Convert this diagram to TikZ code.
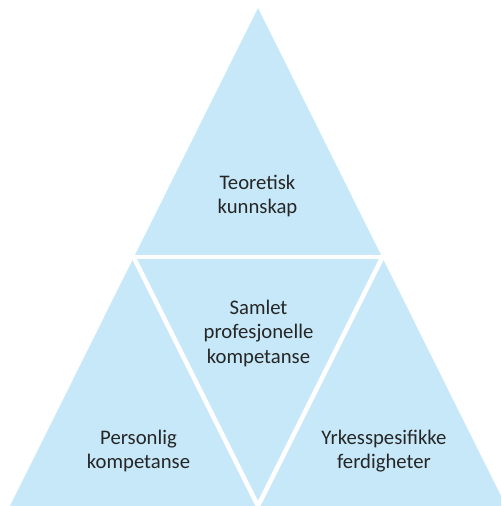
\documentclass[tikz,border=0pt]{standalone}
\usepackage{fontspec}
\setmainfont{Carlito}
\usetikzlibrary{calc}
\definecolor{triblue}{HTML}{C6E8F8}
\definecolor{txt}{HTML}{262626}
\begin{document}
\begin{tikzpicture}[x=1pt,y=-1pt,
  lbl/.style={align=center,text=txt,font=\fontsize{20.7}{24.5}\selectfont,inner sep=0pt},
  gap/.style={draw=white,line width=4.5pt}]
\useasboundingbox (0,0) rectangle (501,506);
\coordinate (apex) at (258,8);
\coordinate (bl) at (10,506);
\coordinate (br) at (506,506);
\coordinate (ml) at (133.5,257);
\coordinate (mr) at (382.5,257);
\coordinate (mb) at (258,506);
\begin{scope}
  \clip (0,0) rectangle (501,506);
  \fill[triblue] (apex) -- (bl) -- (br) -- cycle;
  \draw[gap] ([xshift=-10pt]ml) -- ([xshift=10pt]mr);
  \draw[gap] ($(ml)!-0.05!(mb)$) -- ($(mb)!-0.05!(ml)$);
  \draw[gap] ($(mr)!-0.05!(mb)$) -- ($(mb)!-0.05!(mr)$);
\end{scope}
\node[lbl] (teo) at (257.5,196) {Teoretisk\\kunnskap};
\node[lbl] (sam) at (258.5,333) {Samlet\\profesjonelle\\kompetanse};
\node[lbl] (per) at (138.5,451) {Personlig\\kompetanse};
\node[lbl] (yrk) at (384,451) {Yrkesspesifikke\\ferdigheter};
\end{tikzpicture}
\end{document}
